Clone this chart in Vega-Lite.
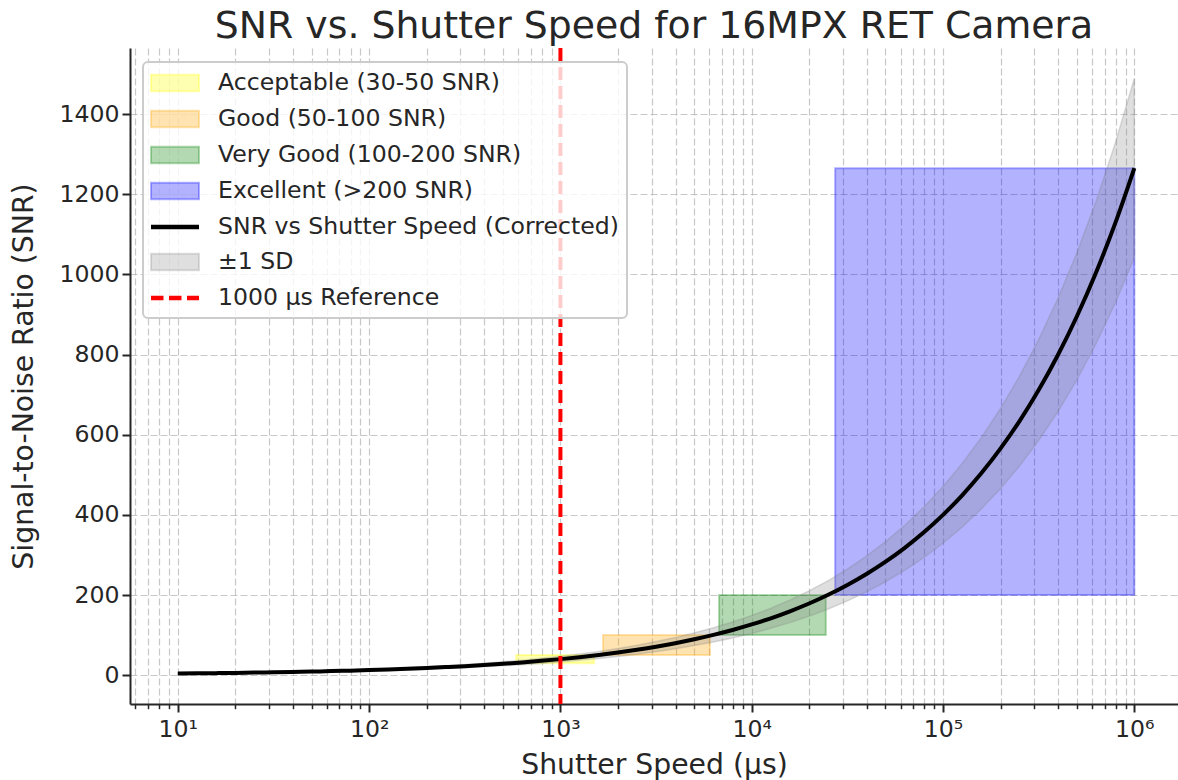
{
  "$schema": "https://vega.github.io/schema/vega-lite/v6.json",
  "width": 1048,
  "height": 656,
  "autosize": {"type": "none"},
  "padding": {"left": 130, "top": 48, "right": 0, "bottom": 76},
  "background": "white",
  "title": {"text": "SNR vs. Shutter Speed for 16MPX RET Camera", "font": "DejaVu Sans", "fontSize": 37.8, "fontWeight": "normal", "color": "#262626", "anchor": "middle", "baseline": "alphabetic", "offset": 8, "dy": 38},
  "config": {
    "view": {"stroke": null},
    "font": "DejaVu Sans",
    "axis": {
      "labelFont": "DejaVu Sans", "titleFont": "DejaVu Sans",
      "labelColor": "#262626", "titleColor": "#262626",
      "labelFontSize": 23.6, "titleFontSize": 28.3, "titleFontWeight": "normal",
      "domainColor": "#262626", "domainWidth": 2,
      "tickColor": "#262626", "tickWidth": 2, "tickSize": 8,
      "gridColor": "#b0b0b0", "gridOpacity": 0.7, "gridDash": [7, 3], "gridWidth": 1.2,
      "labelOverlap": false, "labelFlush": false
    },
    "legend": {
      "orient": "none", "legendX": 13, "legendY": 14,
      "symbolSize": 576, "symbolStrokeWidth": 2, "symbolOffset": 11, "symbolLimit": 0, "labelLimit": 0,
      "labelFont": "DejaVu Sans", "labelFontSize": 23.6, "labelColor": "#262626",
      "labelOffset": 30, "rowPadding": 10, "padding": 8,
      "fillColor": "rgba(255,255,255,0.8)", "strokeColor": "#cccccc", "strokeWidth": 2, "cornerRadius": 5
    }
  },
  "datasets": {
    "rects": [
      {"label": "Acceptable (30-50 SNR)", "t": 587, "t2": 1500, "snr": 30, "snr2": 50},
      {"label": "Good (50-100 SNR)", "t": 1670, "t2": 6050, "snr": 50, "snr2": 100},
      {"label": "Very Good (100-200 SNR)", "t": 6750, "t2": 24400, "snr": 100, "snr2": 200},
      {"label": "Excellent (>200 SNR)", "t": 27300, "t2": 1000000, "snr": 200, "snr2": 1265}
    ],
    "curve": [
      {"t": 10, "snr": 4.00, "lo": 3.29, "hi": 4.71},
      {"t": 12.6, "snr": 4.49, "lo": 3.70, "hi": 5.28},
      {"t": 15.8, "snr": 5.04, "lo": 4.15, "hi": 5.93},
      {"t": 20, "snr": 5.65, "lo": 4.65, "hi": 6.65},
      {"t": 25.1, "snr": 6.34, "lo": 5.22, "hi": 7.46},
      {"t": 31.6, "snr": 7.11, "lo": 5.85, "hi": 8.37},
      {"t": 39.8, "snr": 7.98, "lo": 6.57, "hi": 9.39},
      {"t": 50.1, "snr": 8.96, "lo": 7.37, "hi": 10.55},
      {"t": 63.1, "snr": 10.05, "lo": 8.27, "hi": 11.83},
      {"t": 79.4, "snr": 11.27, "lo": 9.28, "hi": 13.26},
      {"t": 100, "snr": 12.65, "lo": 10.41, "hi": 14.89},
      {"t": 126, "snr": 14.19, "lo": 11.68, "hi": 16.70},
      {"t": 158, "snr": 15.93, "lo": 13.11, "hi": 18.75},
      {"t": 200, "snr": 17.87, "lo": 14.71, "hi": 21.03},
      {"t": 251, "snr": 20.05, "lo": 16.50, "hi": 23.60},
      {"t": 316, "snr": 22.50, "lo": 18.52, "hi": 26.48},
      {"t": 398, "snr": 25.24, "lo": 20.77, "hi": 29.71},
      {"t": 501, "snr": 28.32, "lo": 23.31, "hi": 33.33},
      {"t": 631, "snr": 31.78, "lo": 26.16, "hi": 37.41},
      {"t": 794, "snr": 35.65, "lo": 29.34, "hi": 41.96},
      {"t": 1000, "snr": 40.0, "lo": 32.9, "hi": 47.1},
      {"t": 1259, "snr": 44.9, "lo": 37.0, "hi": 52.8},
      {"t": 1585, "snr": 50.4, "lo": 41.5, "hi": 59.3},
      {"t": 1995, "snr": 56.5, "lo": 46.5, "hi": 66.5},
      {"t": 2512, "snr": 63.4, "lo": 52.2, "hi": 74.6},
      {"t": 3162, "snr": 71.1, "lo": 58.5, "hi": 83.7},
      {"t": 3981, "snr": 79.8, "lo": 65.7, "hi": 93.9},
      {"t": 5012, "snr": 89.6, "lo": 73.7, "hi": 105.5},
      {"t": 6310, "snr": 100.5, "lo": 82.7, "hi": 118.3},
      {"t": 7943, "snr": 112.7, "lo": 92.8, "hi": 132.6},
      {"t": 10000, "snr": 126.5, "lo": 104.1, "hi": 148.9},
      {"t": 12589, "snr": 141.9, "lo": 116.8, "hi": 167.0},
      {"t": 15849, "snr": 159.3, "lo": 131.1, "hi": 187.5},
      {"t": 19953, "snr": 178.7, "lo": 147.1, "hi": 210.3},
      {"t": 25119, "snr": 200.5, "lo": 165.0, "hi": 236.0},
      {"t": 31623, "snr": 225.0, "lo": 185.2, "hi": 264.8},
      {"t": 39811, "snr": 252.4, "lo": 207.7, "hi": 297.1},
      {"t": 50119, "snr": 283.2, "lo": 233.1, "hi": 333.3},
      {"t": 63096, "snr": 317.8, "lo": 261.5, "hi": 374.1},
      {"t": 79433, "snr": 356.5, "lo": 293.4, "hi": 419.6},
      {"t": 100000, "snr": 400.0, "lo": 329.2, "hi": 470.8},
      {"t": 125893, "snr": 448.8, "lo": 369.4, "hi": 528.2},
      {"t": 158489, "snr": 503.6, "lo": 414.5, "hi": 592.7},
      {"t": 199526, "snr": 565.1, "lo": 465.1, "hi": 665.1},
      {"t": 251189, "snr": 634.0, "lo": 521.8, "hi": 746.2},
      {"t": 316228, "snr": 711.4, "lo": 585.5, "hi": 837.3},
      {"t": 398107, "snr": 798.2, "lo": 656.9, "hi": 939.5},
      {"t": 501187, "snr": 895.6, "lo": 737.1, "hi": 1054.1},
      {"t": 630957, "snr": 1004.8, "lo": 827.0, "hi": 1182.6},
      {"t": 794328, "snr": 1127.4, "lo": 927.9, "hi": 1327.0},
      {"t": 1000000, "snr": 1265.0, "lo": 1041.1, "hi": 1488.9}
    ],
    "ref": [
      {"label": "1000 µs Reference", "t": 1000}
    ]
  },
  "encoding": {
    "x": {
      "field": "t", "type": "quantitative", "title": "Shutter Speed (µs)",
      "scale": {"type": "log", "domain": [5.623, 1692000], "nice": false},
      "axis": {
        "values": [6,7,8,9,10,20,30,40,50,60,70,80,90,100,200,300,400,500,600,700,800,900,1000,2000,3000,4000,5000,6000,7000,8000,9000,10000,20000,30000,40000,50000,60000,70000,80000,90000,100000,200000,300000,400000,500000,600000,700000,800000,900000,1000000],
        "grid": true,
        "labelExpr": "abs(log(datum.value)/LN10 - round(log(datum.value)/LN10)) < 0.001 ? '10' + ['⁰','¹','²','³','⁴','⁵','⁶','⁷'][round(log(datum.value)/LN10)] : ''",
        "tickSize": {"condition": {"test": "abs(log(datum.value)/LN10 - round(log(datum.value)/LN10)) < 0.001", "value": 8}, "value": 4.7},
        "tickWidth": {"condition": {"test": "abs(log(datum.value)/LN10 - round(log(datum.value)/LN10)) < 0.001", "value": 2}, "value": 1.5},
        "labelPadding": 5, "titlePadding": 11
      }
    }
  },
  "layer": [
    {
      "data": {"name": "rects"},
      "mark": {"type": "rect", "fillOpacity": 0.3, "strokeOpacity": 0.3, "strokeWidth": 2},
      "encoding": {
        "x2": {"field": "t2"},
        "y": {
          "field": "snr", "type": "quantitative", "title": "Signal-to-Noise Ratio (SNR)",
          "scale": {"domain": [-72, 1565], "nice": false, "zero": false},
          "axis": {"values": [0,200,400,600,800,1000,1200,1400], "format": "d", "grid": true, "labelPadding": 3, "titlePadding": 20}
        },
        "y2": {"field": "snr2"},
        "color": {
          "field": "label", "type": "nominal",
          "scale": {"domain": ["Acceptable (30-50 SNR)", "Good (50-100 SNR)", "Very Good (100-200 SNR)", "Excellent (>200 SNR)", "SNR vs Shutter Speed (Corrected)", "±1 SD", "1000 µs Reference"], "range": ["yellow", "orange", "green", "blue", "black", "gray", "red"]},
          "legend": {
            "title": null,
            "encode": {"symbols": {"update": {
              "shape": {"signal": "datum.index == 4 ? 'M-2,-0.19H2V0.19H-2Z' : datum.index == 6 ? 'M-2,-0.19H-0.958V0.19H-2Z M-0.5,-0.19H0.542V0.19H-0.5Z M1,-0.19H2V0.19H1Z' : 'M-2,-0.68H2V0.68H-2Z'"},
              "size": {"value": 576},
              "strokeWidth": {"value": 2},
              "fill": {"signal": "['yellow','orange','green','blue','black','gray','red'][datum.index]"},
              "fillOpacity": {"signal": "[0.3,0.3,0.3,0.3,1,0.25,1][datum.index]"},
              "stroke": {"signal": "['yellow','orange','green','blue','black','gray','red'][datum.index]"},
              "strokeOpacity": {"signal": "[0.3,0.3,0.3,0.3,0,0.25,0][datum.index]"},
              "opacity": {"value": 1}
            }}}
          }
        },
        "stroke": {
          "field": "label", "type": "nominal",
          "scale": {"domain": ["Acceptable (30-50 SNR)", "Good (50-100 SNR)", "Very Good (100-200 SNR)", "Excellent (>200 SNR)"], "range": ["yellow", "orange", "green", "blue"]},
          "legend": null
        }
      }
    },
    {
      "data": {"name": "curve"},
      "mark": {"type": "area", "fillOpacity": 0.25, "stroke": "gray", "strokeOpacity": 0.25, "strokeWidth": 1.5},
      "encoding": {
        "y": {"field": "lo", "type": "quantitative", "title": "Signal-to-Noise Ratio (SNR)", "scale": {"domain": [-72, 1565], "nice": false, "zero": false}},
        "y2": {"field": "hi"},
        "color": {"datum": "±1 SD", "type": "nominal", "scale": {"domain": ["Acceptable (30-50 SNR)", "Good (50-100 SNR)", "Very Good (100-200 SNR)", "Excellent (>200 SNR)", "SNR vs Shutter Speed (Corrected)", "±1 SD", "1000 µs Reference"], "range": ["yellow", "orange", "green", "blue", "black", "gray", "red"]}}
      }
    },
    {
      "data": {"name": "curve"},
      "mark": {"type": "line", "strokeWidth": 4, "interpolate": "monotone"},
      "encoding": {
        "y": {"field": "snr", "type": "quantitative", "title": "Signal-to-Noise Ratio (SNR)", "scale": {"domain": [-72, 1565], "nice": false, "zero": false}},
        "color": {"datum": "SNR vs Shutter Speed (Corrected)", "type": "nominal", "scale": {"domain": ["Acceptable (30-50 SNR)", "Good (50-100 SNR)", "Very Good (100-200 SNR)", "Excellent (>200 SNR)", "SNR vs Shutter Speed (Corrected)", "±1 SD", "1000 µs Reference"], "range": ["yellow", "orange", "green", "blue", "black", "gray", "red"]}}
      }
    },
    {
      "data": {"name": "ref"},
      "mark": {"type": "rule", "strokeWidth": 4, "strokeDash": [13, 6]},
      "encoding": {
        "color": {"field": "label", "type": "nominal", "scale": {"domain": ["Acceptable (30-50 SNR)", "Good (50-100 SNR)", "Very Good (100-200 SNR)", "Excellent (>200 SNR)", "SNR vs Shutter Speed (Corrected)", "±1 SD", "1000 µs Reference"], "range": ["yellow", "orange", "green", "blue", "black", "gray", "red"]}}
      }
    }
  ]
}
